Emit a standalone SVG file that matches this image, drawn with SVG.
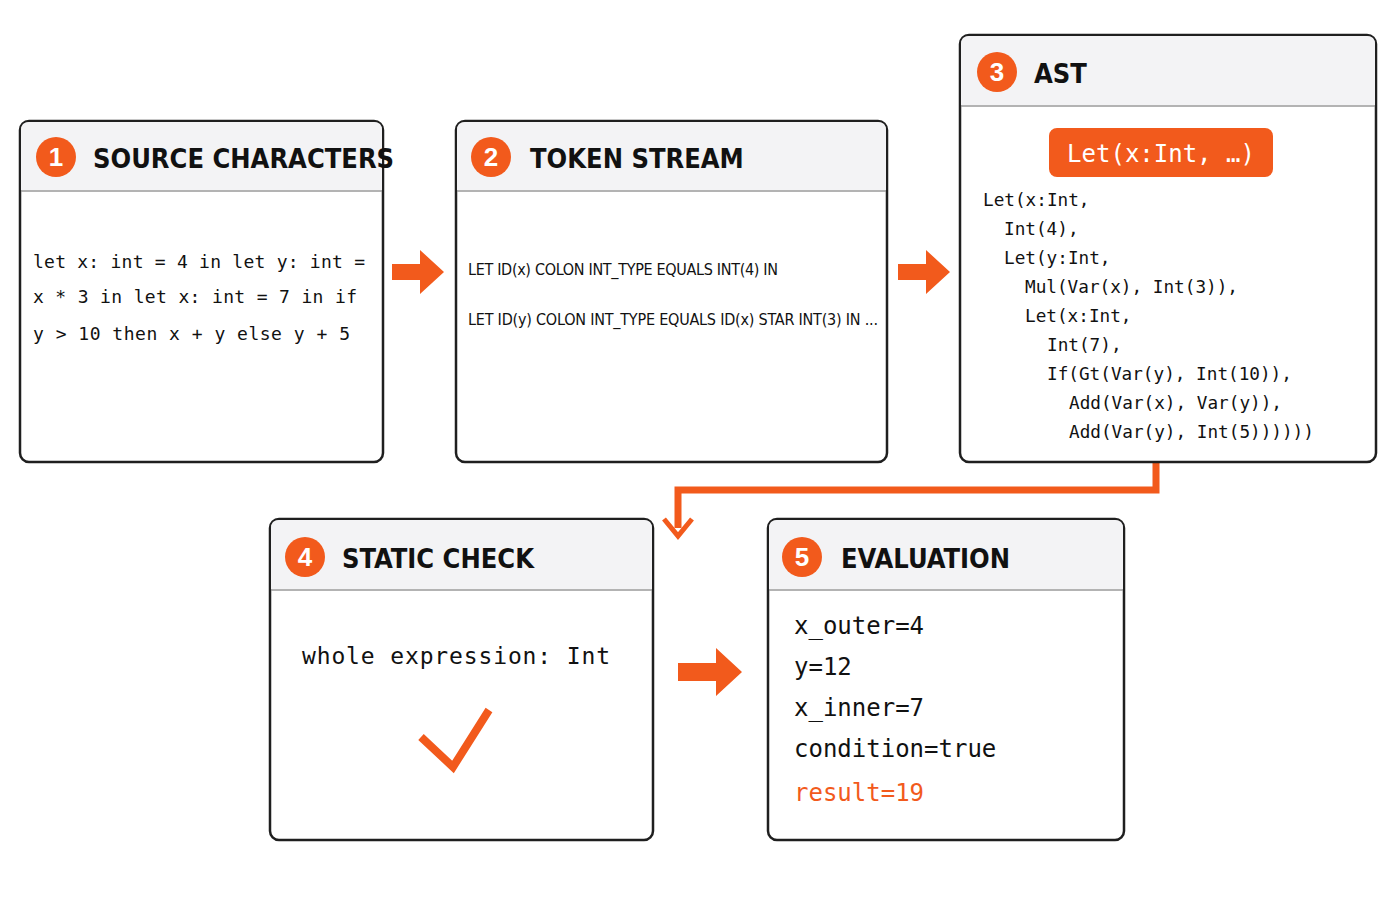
<svg xmlns="http://www.w3.org/2000/svg" width="1400" height="900" viewBox="0 0 1400 900">
<style>
.box{fill:#fff;stroke:#1f1f1f;stroke-width:2.5}
.hdr{fill:#f3f3f5}
.sep{stroke:#9a9a9a;stroke-width:1.5}
.num{fill:#f25a1c}
.numt{fill:#fff;font-family:"Liberation Sans",sans-serif;font-weight:bold;font-size:26px;text-anchor:middle}
.ttl{fill:#111;font-family:"DejaVu Sans",sans-serif;font-stretch:condensed;font-weight:bold;font-size:27px}
.mono{fill:#111;font-family:"DejaVu Sans Mono",monospace}
.tok{fill:#111;font-family:"DejaVu Sans",sans-serif;font-stretch:condensed;font-size:16px}
.blk{fill:#f25a1c}
</style>
<rect width="1400" height="900" fill="#fff"/>
<g id="connectors">
<polygon class="blk" points="392,264 420,264 420,250 444,272 420,294 420,280 392,280"/>
<polygon class="blk" points="898,264 926,264 926,250 950,272 926,294 926,280 898,280"/>
<polygon class="blk" points="678,663 716,663 716,648 742,672 716,696 716,681 678,681"/>
<path d="M1156,463 V490 H678 V528" fill="none" stroke="#f25a1c" stroke-width="7"/>
<path d="M664,519 L678,536 L692,519" fill="none" stroke="#f25a1c" stroke-width="5"/>
</g>
<g id="n1">
<rect class="box" x="20" y="121" width="363" height="341" rx="9"/>
<path class="hdr" d="M29,122 H374 Q382,122 382,130 V190 H21 V130 Q21,122 29,122Z"/>
<line class="sep" x1="21" y1="191" x2="382" y2="191"/>
<circle class="num" cx="56" cy="157" r="20"/><text class="numt" x="56" y="166">1</text>
<text class="ttl" x="93" y="168">SOURCE CHARACTERS</text>
<text class="mono" font-size="18" x="33" y="268" textLength="332">let x: int = 4 in let y: int =</text>
<text class="mono" font-size="18" x="33" y="303" textLength="324">x * 3 in let x: int = 7 in if</text>
<text class="mono" font-size="18" x="33" y="340" textLength="317">y &gt; 10 then x + y else y + 5</text>
</g>
<g id="n2">
<rect class="box" x="456" y="121" width="431" height="341" rx="9"/>
<path class="hdr" d="M465,122 H878 Q886,122 886,130 V190 H457 V130 Q457,122 465,122Z"/>
<line class="sep" x1="457" y1="191" x2="886" y2="191"/>
<circle class="num" cx="491" cy="157" r="20"/><text class="numt" x="491" y="166">2</text>
<text class="ttl" x="530" y="168">TOKEN STREAM</text>
<text class="tok" x="468" y="275" textLength="310">LET ID(x) COLON INT_TYPE EQUALS INT(4) IN</text>
<text class="tok" x="468" y="325" textLength="410">LET ID(y) COLON INT_TYPE EQUALS ID(x) STAR INT(3) IN ...</text>
</g>
<g id="n3">
<rect class="box" x="960" y="35" width="416" height="427" rx="9"/>
<path class="hdr" d="M969,36 H1367 Q1375,36 1375,44 V105 H961 V44 Q961,36 969,36Z"/>
<line class="sep" x1="961" y1="106" x2="1375" y2="106"/>
<circle class="num" cx="997" cy="72" r="20"/><text class="numt" x="997" y="81">3</text>
<text class="ttl" x="1034" y="83">AST</text>
<rect x="1049" y="128" width="224" height="49" rx="8" fill="#f25a1c"/>
<text class="mono" font-size="24" fill="#fff" style="fill:#fff" x="1161" y="162" text-anchor="middle">Let(x:Int, …)</text>
<g class="mono" font-size="17.7">
<text x="983" y="206">Let(x:Int,</text>
<text x="1004" y="235">Int(4),</text>
<text x="1004" y="264">Let(y:Int,</text>
<text x="1025" y="293">Mul(Var(x), Int(3)),</text>
<text x="1025" y="322">Let(x:Int,</text>
<text x="1047" y="351">Int(7),</text>
<text x="1047" y="380">If(Gt(Var(y), Int(10)),</text>
<text x="1069" y="409">Add(Var(x), Var(y)),</text>
<text x="1069" y="438">Add(Var(y), Int(5))))))</text>
</g>
</g>
<g id="n4">
<rect class="box" x="270" y="519" width="383" height="321" rx="9"/>
<path class="hdr" d="M279,520 H644 Q652,520 652,528 V589 H271 V528 Q271,520 279,520Z"/>
<line class="sep" x1="271" y1="590" x2="652" y2="590"/>
<circle class="num" cx="305" cy="557" r="20"/><text class="numt" x="305" y="566">4</text>
<text class="ttl" x="342" y="568">STATIC CHECK</text>
<text class="mono" font-size="23" x="302" y="664" textLength="308">whole expression: Int</text>
<path d="M421,737 L453,767 L489,710" fill="none" stroke="#f25a1c" stroke-width="8"/>
</g>
<g id="n5">
<rect class="box" x="768" y="519" width="356" height="321" rx="9"/>
<path class="hdr" d="M777,520 H1115 Q1123,520 1123,528 V589 H769 V528 Q769,520 777,520Z"/>
<line class="sep" x1="769" y1="590" x2="1123" y2="590"/>
<circle class="num" cx="802" cy="557" r="20"/><text class="numt" x="802" y="566">5</text>
<text class="ttl" x="841" y="568">EVALUATION</text>
<g class="mono" font-size="24">
<text x="794" y="634">x_outer=4</text>
<text x="794" y="675">y=12</text>
<text x="794" y="716">x_inner=7</text>
<text x="794" y="757">condition=true</text>
<text x="794" y="801" style="fill:#f25a1c">result=19</text>
</g>
</g>
</svg>
